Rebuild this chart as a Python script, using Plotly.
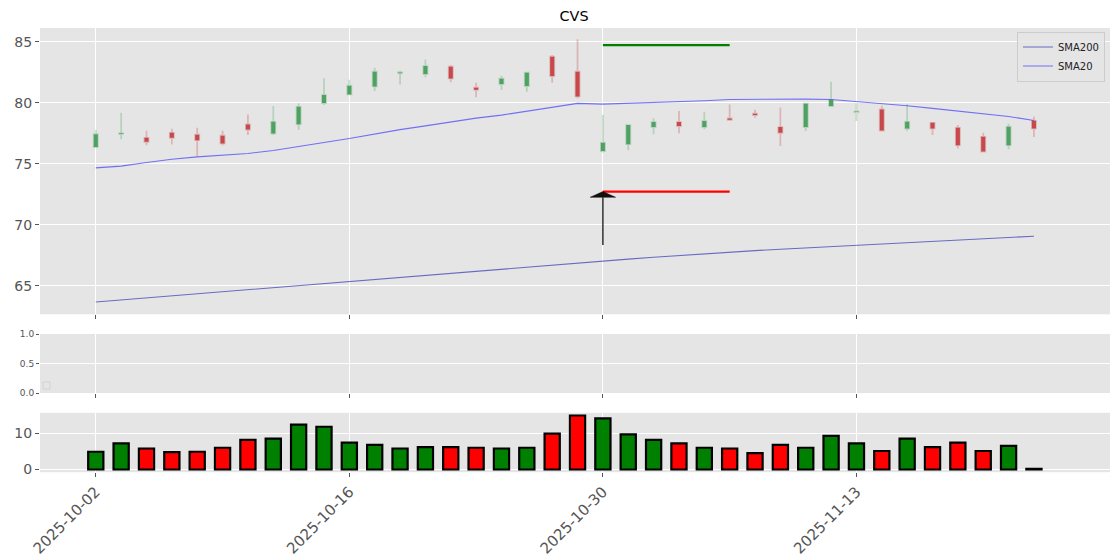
import plotly.graph_objects as go

# ---------------- data ----------------
dates = ["2025-10-02", "2025-10-03", "2025-10-06", "2025-10-07", "2025-10-08", "2025-10-09",
         "2025-10-10", "2025-10-13", "2025-10-14", "2025-10-15", "2025-10-16", "2025-10-17",
         "2025-10-20", "2025-10-21", "2025-10-22", "2025-10-23", "2025-10-24", "2025-10-27",
         "2025-10-28", "2025-10-29", "2025-10-30", "2025-10-31", "2025-11-03", "2025-11-04",
         "2025-11-05", "2025-11-06", "2025-11-07", "2025-11-10", "2025-11-11", "2025-11-12",
         "2025-11-13", "2025-11-14", "2025-11-17", "2025-11-18", "2025-11-19", "2025-11-20",
         "2025-11-21", "2025-11-24"]

opens = [76.37, 77.45, 77.13, 77.54, 77.38, 77.30, 78.22, 77.49, 78.25, 79.97,
         80.68, 81.34, 82.42, 82.35, 82.95, 81.23, 81.53, 81.37, 83.77, 82.54,
         76.04, 76.61, 78.01, 78.42, 78.01, 78.72, 79.10, 78.01, 78.01, 79.73,
         79.24, 79.45, 77.90, 78.36, 77.95, 77.21, 76.53, 78.52]
highs = [77.76, 79.18, 77.70, 77.87, 77.95, 77.70, 79.04, 79.73, 79.95, 82.00,
         81.89, 82.87, 82.62, 83.55, 83.09, 81.64, 82.21, 82.54, 83.91, 85.19,
         78.99, 78.22, 78.74, 79.32, 79.26, 79.86, 79.43, 79.62, 79.97, 81.72,
         79.95, 79.75, 79.89, 78.39, 78.17, 77.54, 78.28, 78.85]
lows = [76.31, 77.02, 76.53, 76.58, 75.63, 76.53, 77.35, 77.35, 77.76, 79.81,
        80.63, 80.96, 81.50, 82.08, 81.67, 80.46, 81.04, 80.90, 81.64, 80.36,
        75.93, 76.12, 77.43, 77.51, 77.84, 78.52, 78.77, 76.45, 77.68, 79.67,
        78.50, 77.68, 77.68, 77.35, 76.26, 75.96, 76.20, 77.19]
closes = [77.43, 77.50, 76.80, 77.13, 76.94, 76.67, 77.81, 78.44, 79.67, 80.63,
          81.39, 82.54, 82.48, 83.00, 81.99, 81.07, 81.97, 82.46, 82.19, 80.52,
          76.72, 78.17, 78.42, 78.09, 78.50, 78.61, 78.99, 77.54, 79.92, 80.22,
          79.29, 77.73, 78.44, 77.90, 76.53, 76.01, 78.03, 77.90]
volumes = [4.9, 7.2, 5.8, 4.8, 4.9, 6.0, 8.2, 8.5, 12.4, 11.8,
           7.4, 6.8, 5.8, 6.2, 6.2, 6.0, 5.8, 6.0, 9.9, 14.9,
           14.1, 9.7, 8.2, 7.2, 6.0, 5.8, 4.5, 6.8, 6.0, 9.3,
           7.2, 5.1, 8.5, 6.2, 7.4, 5.1, 6.5, 0.2]
sma20 = [74.67, 74.81, 75.11, 75.38, 75.57, 75.68, 75.85, 76.09, 76.39, 76.75,
         77.08, 77.46, 77.80, 78.11, 78.44, 78.74, 78.99, 79.29, 79.62, 79.95,
         79.89, 79.95, 80.03, 80.08, 80.16, 80.27, 80.30, 80.30, 80.30, 80.27,
         80.11, 79.92, 79.75, 79.54, 79.32, 79.10, 78.88, 78.54]
sma200 = [63.69, 63.86, 64.03, 64.20, 64.36, 64.53, 64.70, 64.86, 65.03, 65.20,
          65.37, 65.54, 65.71, 65.88, 66.05, 66.22, 66.39, 66.56, 66.73, 66.89,
          67.05, 67.20, 67.35, 67.50, 67.64, 67.77, 67.89, 68.01, 68.12, 68.22,
          68.32, 68.43, 68.54, 68.65, 68.76, 68.86, 68.96, 69.07]
tick_positions = [0, 10, 20, 30]
tick_labels = [dates[i] for i in tick_positions]
title_text = "CVS"

signal_idx = 20
level_end_idx = 25
take_profit = 84.72
stop_loss = 72.73
arrow_tail = 68.35

# ---------------- styling ----------------
W, H = 1120, 560
FONT = "DejaVu Sans"
PANEL = "#E5E5E5"
TICKC = "#555555"
x_dom = [40 / W, 1110 / W]


def ydom(top_px, bot_px):
    return [1 - bot_px / H, 1 - top_px / H]


idx = list(range(len(dates)))
fig = go.Figure()

# moving averages (legend order: SMA200, SMA20)
fig.add_trace(go.Scatter(x=idx, y=sma200, mode="lines", name="SMA200",
                         line=dict(color="rgba(30,30,175,0.62)", width=1.1),
                         xaxis="x", yaxis="y"))
fig.add_trace(go.Scatter(x=idx, y=sma20, mode="lines", name="SMA20",
                         line=dict(color="rgba(40,40,255,0.62)", width=1.1),
                         xaxis="x", yaxis="y"))

# candles
fig.add_trace(go.Candlestick(
    x=idx, open=opens, high=highs, low=lows, close=closes,
    increasing=dict(line=dict(color="rgba(79,163,99,0.30)", width=1.8), fillcolor="#4ea262"),
    decreasing=dict(line=dict(color="rgba(200,72,74,0.30)", width=1.8), fillcolor="#c8484b"),
    whiskerwidth=0, showlegend=False, xaxis="x", yaxis="y", hoverinfo="skip"))

# target / stop levels
fig.add_trace(go.Scatter(x=[signal_idx, level_end_idx], y=[take_profit, take_profit], mode="lines",
                         line=dict(color="#008000", width=2.2), showlegend=False,
                         xaxis="x", yaxis="y"))
fig.add_trace(go.Scatter(x=[signal_idx, level_end_idx], y=[stop_loss, stop_loss], mode="lines",
                         line=dict(color="#ff0000", width=2.2), showlegend=False,
                         xaxis="x", yaxis="y"))

# signal arrow
head_half_w = 0.5
head_len = 0.47
fig.add_trace(go.Scatter(x=[signal_idx, signal_idx], y=[arrow_tail, stop_loss - head_len],
                         mode="lines", line=dict(color="black", width=1.2),
                         showlegend=False, xaxis="x", yaxis="y"))
fig.add_trace(go.Scatter(x=[signal_idx - head_half_w, signal_idx, signal_idx + head_half_w, signal_idx - head_half_w],
                         y=[stop_loss - head_len, stop_loss, stop_loss - head_len, stop_loss - head_len],
                         mode="lines", fill="toself", fillcolor="#111111",
                         line=dict(color="#111111", width=0.5),
                         showlegend=False, xaxis="x", yaxis="y"))

# empty middle panel placeholder
fig.add_trace(go.Scatter(x=[None], y=[None], showlegend=False, xaxis="x2", yaxis="y2"))

# volume
vol_colors = ["#008000" if c > o else "#ff0000" for o, c in zip(opens, closes)]
fig.add_trace(go.Bar(x=idx, y=volumes, width=0.6, marker=dict(color=vol_colors,
                     line=dict(color="black", width=2.2)),
                     showlegend=False, xaxis="x3", yaxis="y3"))

common_x = dict(range=[-2.2, 40.0], tickmode="array", tickvals=tick_positions,
                showgrid=True, gridcolor="white", gridwidth=1.3, zeroline=False,
                ticks="outside", ticklen=4, tickcolor=TICKC, tickwidth=1,
                showline=False, domain=x_dom, automargin=False)
common_y = dict(showgrid=True, gridcolor="white", gridwidth=1.3, zeroline=False,
                ticks="outside", ticklen=4, tickcolor=TICKC, tickwidth=1, automargin=False,
                tickfont=dict(family=FONT, size=14, color=TICKC))

fig.update_layout(
    width=W, height=H, margin=dict(l=0, r=0, t=0, b=0, autoexpand=False),
    paper_bgcolor="white", plot_bgcolor=PANEL,
    boxgap=0.77,
    font=dict(family=FONT, color="#222222"),
    title=dict(text=title_text, x=574 / W, xanchor="center", y=1 - 16 / H, yanchor="middle",
               font=dict(family=FONT, size=14.4, color="black")),
    xaxis=dict(**common_x, anchor="y", showticklabels=False, rangeslider=dict(visible=False)),
    yaxis=dict(**common_y, domain=ydom(28, 314.3), range=[62.68, 86.12],
               tickvals=[65, 70, 75, 80, 85]),
    xaxis2=dict(**common_x, anchor="y2", showticklabels=False),
    yaxis2=dict(showgrid=True, gridcolor="white", gridwidth=1.3, zeroline=False,
                ticks="outside", ticklen=3, tickcolor=TICKC, automargin=False,
                tickfont=dict(family=FONT, size=9, color=TICKC),
                domain=ydom(334, 393), range=[0, 1], tickvals=[0, 0.5, 1],
                ticktext=["0.0", "0.5", "1.0"]),
    xaxis3=dict(**common_x, anchor="y3", ticktext=tick_labels, tickangle=-45,
                tickfont=dict(family=FONT, size=15, color=TICKC)),
    yaxis3=dict(**common_y, domain=ydom(412.8, 472.2), range=[-0.75, 15.65],
                tickvals=[0, 10]),
    legend=dict(x=1105 / W, xanchor="right", y=1 - 31.5 / H, yanchor="top",
                bgcolor="rgba(229,229,229,0.8)", bordercolor="#cccccc", borderwidth=1,
                font=dict(family=FONT, size=10, color="#222222"), tracegroupgap=0),
    shapes=[dict(type="rect", xref="paper", yref="paper",
                 x0=43 / W, x1=50 / W, y0=1 - 389 / H, y1=1 - 382 / H,
                 line=dict(color="#d2d2d2", width=1), fillcolor="rgba(229,229,229,0.8)")],
)

fig.write_html("out.html", config={"displayModeBar": False},
               post_script="document.body.style.margin='0px';document.body.style.overflow='hidden';")
